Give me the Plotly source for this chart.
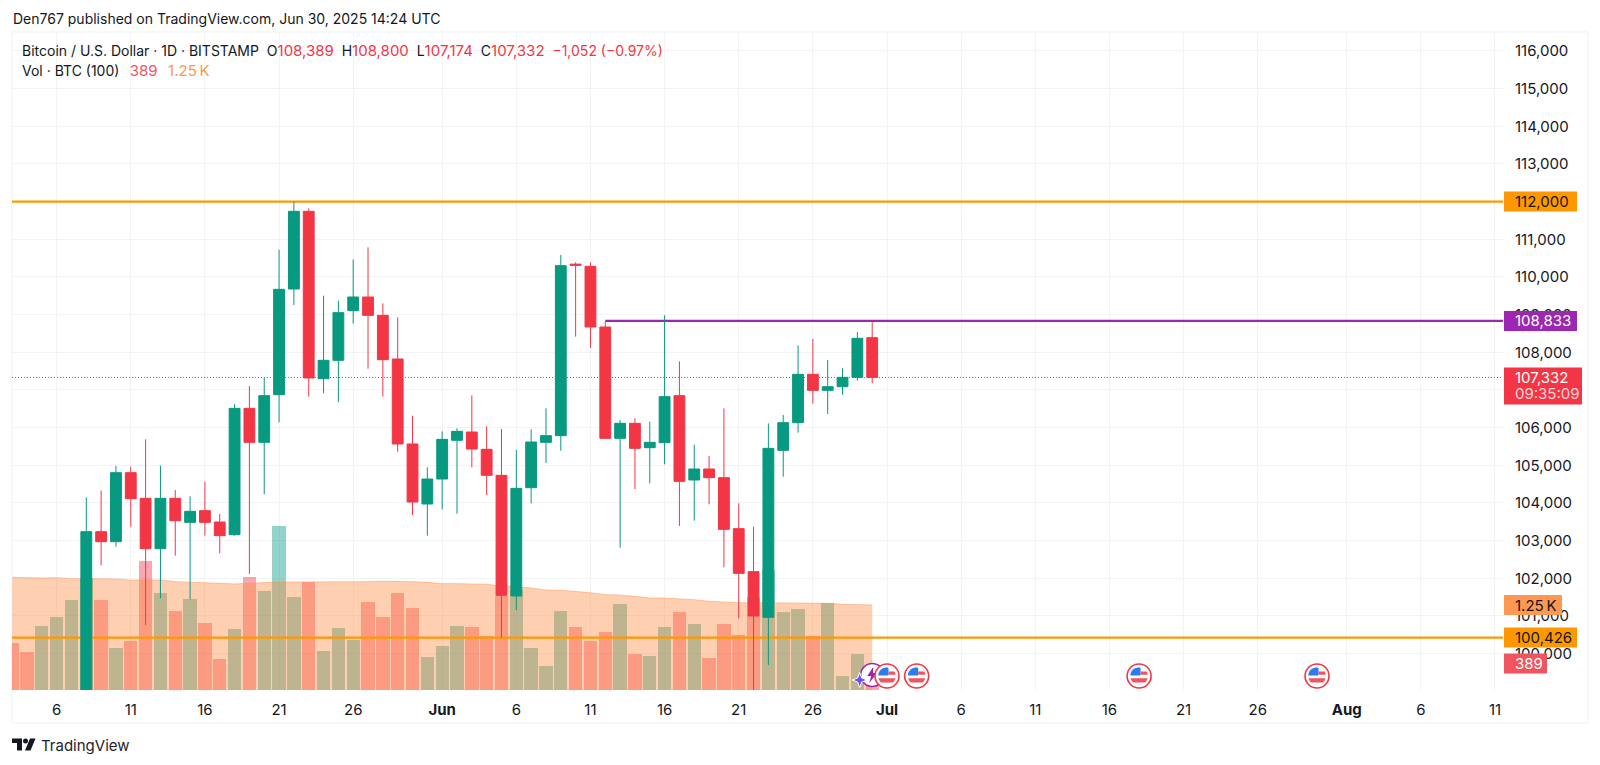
import math
import numpy as np
import pandas as pd
import plotly.graph_objects as go

# ---------- chart values ----------
candle_dates = pd.date_range("2025-05-08", "2025-06-30", freq="D")
opens = [97000, 103238, 102973, 104804, 104123, 102787, 104123, 103486, 103796, 103495,
         103159, 106512, 105610, 106875, 109680, 111742, 107300, 107787, 109105, 109468,
         108981, 107822, 105566, 103973, 104636, 105663, 105884, 105424, 104734, 101531,
         104406, 105610, 105787, 110340, 110282, 108671, 105716, 106114, 105468, 105601,
         106849, 104610, 104902, 104672, 103318, 102177, 100964, 105397, 106132, 107415,
         106990, 107087, 107335, 108389]
highs = [104150, 104330, 104981, 104964, 105689, 104990, 104344, 104176, 104566, 103707,
         106627, 107105, 107335, 110725, 112000, 111822, 109503, 109371, 110468, 110786,
         109300, 108928, 106318, 104946, 105902, 105981, 106857, 106034, 105964, 105406,
         105955, 106512, 110583, 110388, 110388, 108831, 106203, 106247, 106158, 108981,
         107760, 105548, 105247, 106512, 103991, 103371, 106114, 106335, 108185, 108353,
         107795, 107574, 108539, 108800]
lows = [96500, 102345, 102840, 103371, 100760, 101469, 102600, 101442, 103132, 102663,
        103132, 102115, 104230, 106141, 109256, 106822, 106911, 106672, 108760, 107565,
        106822, 105362, 103681, 103132, 103831, 103716, 104946, 104211, 100416, 101159,
        103990, 105061, 105388, 108415, 108114, 105716, 102814, 104371, 104521, 105025,
        103389, 103530, 103964, 102292, 100938, 98200, 99699, 104698, 105866, 106636,
        106362, 106875, 107247, 107174]
closes = [103238, 102973, 104804, 104114, 102787, 104123, 103530, 103778, 103486, 103132,
          106512, 105610, 106849, 109672, 111742, 107318, 107787, 109052, 109468, 108981,
          107804, 105566, 104026, 104636, 105689, 105902, 105433, 104734, 101548, 104388,
          105618, 105787, 110300, 110310, 108671, 105716, 106114, 105450, 105610, 106822,
          104574, 104902, 104672, 103300, 102132, 101000, 105450, 106132, 107415, 106990,
          107087, 107335, 108370, 107332]

vol_dates = pd.date_range("2025-05-03", "2025-06-30", freq="D")
volumes = [696, 564, 941, 1069, 1324, 1640, 1324, 623, 721, 1897, 1422, 1162, 1333, 985,
           456, 897, 1662, 1456, 2412, 1373, 1583, 578, 912, 735, 1294, 1074, 1426, 1206,
           485, 647, 941, 922, 794, 1382, 1470, 613, 353, 1162, 922, 721, 858, 1265, 525,
           495, 926, 1152, 971, 471, 971, 809, 1372, 1765, 1152, 1196, 794, 1284, 206, 529,
           389]
vol_up = [0, 0, 1, 1, 1, 1, 0, 1, 0, 0, 1, 0, 1, 0, 0, 1, 0, 1, 1, 1, 0, 1, 1, 1, 0, 0, 0, 0,
          1, 1, 1, 0, 0, 0, 1, 1, 1, 1, 0, 0, 0, 1, 0, 1, 1, 0, 1, 0, 0, 0, 0, 1, 1, 1, 0, 1,
          1, 1, 0]
vol_ma = [1657, 1647, 1647, 1652, 1637, 1637, 1637, 1632, 1618, 1623, 1618, 1593, 1588, 1578,
          1569, 1559, 1569, 1583, 1588, 1588, 1588, 1583, 1583, 1588, 1593, 1598, 1598, 1593,
          1583, 1564, 1564, 1564, 1554, 1529, 1520, 1500, 1471, 1466, 1451, 1431, 1402, 1397,
          1377, 1353, 1353, 1343, 1328, 1304, 1289, 1284, 1284, 1284, 1284, 1284, 1279, 1275,
          1260, 1250, 1250]

tick_dates = ["2025-05-06", "2025-05-11", "2025-05-16", "2025-05-21", "2025-05-26", "2025-06-01",
              "2025-06-06", "2025-06-11", "2025-06-16", "2025-06-21", "2025-06-26", "2025-07-01",
              "2025-07-06", "2025-07-11", "2025-07-16", "2025-07-21", "2025-07-26", "2025-08-01",
              "2025-08-06", "2025-08-11"]
tick_labels = ["6", "11", "16", "21", "26", "<b>Jun</b>", "6", "11", "16", "21", "26", "<b>Jul</b>",
               "6", "11", "16", "21", "26", "<b>Aug</b>", "6", "11"]
flag_dates = ["2025-07-01", "2025-07-03", "2025-07-18", "2025-07-30"]

resistance = 112000
support = 100426
pivot = 108833
pivot_start = "2025-06-12"
last_price = 107332
last_vol = 389
last_ma = 1250
x_start = "2025-05-02 23:45"
x_end = "2025-08-11 13:00"

# ---------- colours ----------
GREEN = "#089981"
RED = "#F23645"
ORANGE = "#FF9800"
PURPLE = "#9C27B0"
TEXT = "#131722"
GRID = "#F2F3F5"
FONT = "Inter"

# plot area in page pixels
L, R, T, B = 12, 1503, 32, 690


def px(x):
    return (x - L) / (R - L)


def py(y):
    return (B - y) / (B - T)


def round_band(r, y0, y1, x0=-99, x1=99):
    # part of a circle between two heights, as a pixel path
    ys = np.linspace(y0, y1, 9)
    left = [(max(x0, -math.sqrt(max(r * r - y * y, 0))), y) for y in ys]
    right = [(min(x1, math.sqrt(max(r * r - y * y, 0))), y) for y in ys[::-1]]
    pts = left + right
    return "M" + " L".join(f"{a:.2f},{b:.2f}" for a, b in pts) + " Z"


def poly(points):
    return "M" + " L".join(f"{a:.5f},{b:.5f}" for a, b in points) + " Z"


fig = go.Figure()

# volume and its average on the bottom layer
fig.add_trace(go.Bar(
    x=vol_dates, y=volumes, width=86400000 * 0.9, yaxis="y",
    marker=dict(color=[GREEN if u else RED for u in vol_up], opacity=0.43, line_width=0),
))
fig.add_trace(go.Scatter(
    x=vol_dates, y=vol_ma, mode="lines", yaxis="y", fill="tozeroy",
    line=dict(color="rgba(255,140,70,0.45)", width=1),
    fillcolor="rgba(255,135,60,0.4)",
))

# horizontal levels, under the candles
fig.add_trace(go.Scatter(x=[x_start, x_end], y=[last_price, last_price], mode="lines", yaxis="y2",
                         line=dict(color=RED, width=1, dash="1px,2px")))
fig.add_trace(go.Scatter(x=[x_start, x_end], y=[resistance, resistance], mode="lines", yaxis="y2",
                         line=dict(color=ORANGE, width=2.3)))
fig.add_trace(go.Scatter(x=[x_start, x_end], y=[support, support], mode="lines", yaxis="y2",
                         line=dict(color=ORANGE, width=2.3)))
fig.add_trace(go.Scatter(x=[pivot_start, x_end], y=[pivot, pivot], mode="lines", yaxis="y2",
                         line=dict(color=PURPLE, width=2.3)))

fig.add_trace(go.Candlestick(
    x=candle_dates, open=opens, high=highs, low=lows, close=closes, yaxis="y3",
    increasing=dict(line=dict(color=GREEN, width=1), fillcolor=GREEN),
    decreasing=dict(line=dict(color=RED, width=1), fillcolor=RED),
    whiskerwidth=0,
))

price_range = [99035, 116503]
fig.update_layout(
    width=1600, height=765,
    margin=dict(l=L, r=1600 - R, t=T, b=765 - B),
    paper_bgcolor="white", plot_bgcolor="white",
    showlegend=False, boxgap=0.27, boxgroupgap=0, bargap=0,
    font=dict(family=FONT, size=14, color=TEXT),
    xaxis=dict(
        type="date", range=[x_start, x_end], rangeslider_visible=False,
        tickmode="array", tickvals=tick_dates, ticktext=tick_labels,
        showgrid=True, gridcolor=GRID, gridwidth=1, zeroline=False, showline=False,
        ticks="", ticklabelstandoff=9, tickangle=0,
        tickfont=dict(family=FONT, size=15, color=TEXT),
    ),
    yaxis=dict(range=[0, 9676], visible=False, showgrid=False, zeroline=False),
    yaxis2=dict(range=price_range, overlaying="y", visible=False, showgrid=False, zeroline=False),
    yaxis3=dict(
        range=price_range, overlaying="y", side="right",
        tick0=0, dtick=1000, tickformat=",d",
        showgrid=True, gridcolor=GRID, gridwidth=1, zeroline=False, showline=False,
        ticks="", ticklabelstandoff=11,
        tickfont=dict(family=FONT, size=15, color=TEXT),
    ),
)

# outer frame and its right/bottom parts
fig.add_shape(type="rect", xref="paper", yref="paper", x0=px(12), x1=px(1588), y0=py(723), y1=py(32),
              line=dict(color="#EFF1F5", width=1), layer="below")


def pill(level, yref, color, text, width, text_color="white", up=10, down=-10):
    fig.add_shape(type="rect", xref="paper", xsizemode="pixel", xanchor=1.0, x0=1, x1=1 + width,
                  yref=yref, ysizemode="pixel", yanchor=level, y0=down, y1=up,
                  fillcolor=color, line_width=0, layer="above")
    fig.add_annotation(xref="paper", yref=yref, x=px(1513), y=level, text=text, showarrow=False,
                       xanchor="left", yanchor="middle",
                       font=dict(family=FONT, size=15, color=text_color))


pill(resistance, "y3", ORANGE, f"{resistance:,}", 73, TEXT)
pill(pivot, "y3", PURPLE, f"{pivot:,}", 73)
pill(last_price, "y3", RED, f"{last_price:,}", 78, up=10, down=-27)
fig.add_annotation(xref="paper", yref="paper", x=px(1513), y=py(393.5), text="09:35:09", showarrow=False,
                   xanchor="left", yanchor="middle", font=dict(family=FONT, size=15, color="#FBD5D8"))
pill(last_ma, "y", "#FF9850", "1.25\u2009K", 58, TEXT)
pill(support, "y3", ORANGE, f"{support:,}", 73, TEXT)
pill(last_vol, "y", "#F0545E", str(last_vol), 43)

# header texts
fig.add_annotation(xref="paper", yref="paper", x=px(10.5), y=py(18.5), xanchor="left", yanchor="middle",
                   showarrow=False, text="Den767 published on TradingView.com, Jun 30, 2025 14:24 UTC",
                   font=dict(family=FONT, size=14, color=TEXT))


def num(s, color=RED, size=15):
    return f'<span style="color:{color};font-size:{size}px">{s}</span>'


sp = "\u00a0\u00a0"
legend_1 = ("Bitcoin / U.S. Dollar · 1D · BITSTAMP" + sp
            + "O" + num("108,389") + sp + "H" + num("108,800") + sp + "L" + num("107,174") + sp
            + "C" + num("107,332") + sp + num("\u22121,052 (\u22120.97%)", size=14))
legend_2 = ("Vol · BTC (100)" + sp + "\u2009" + num("389", "#F0545E") + sp + "\u2009" + num("1.25\u2009K", "#FF9850"))
fig.add_annotation(xref="paper", yref="paper", x=px(19.5), y=py(50.5), xanchor="left", yanchor="middle",
                   showarrow=False, text=legend_1, font=dict(family=FONT, size=14, color=TEXT))
fig.add_annotation(xref="paper", yref="paper", x=px(19.5), y=py(70.5), xanchor="left", yanchor="middle",
                   showarrow=False, text=legend_2, font=dict(family=FONT, size=14, color=TEXT))

# TradingView mark and name
fig.add_annotation(xref="paper", yref="paper", x=px(38.5), y=py(745), xanchor="left", yanchor="middle",
                   showarrow=False, text="TradingView", font=dict(family=FONT, size=15, color="#1E222D"))
for path in [
    poly([(px(12), py(738.5)), (px(22), py(738.5)), (px(22), py(750.5)), (px(17), py(750.5)),
          (px(17), py(743)), (px(12), py(743))]),
    poly([(px(30), py(738.5)), (px(35.5), py(738.5)), (px(30.5), py(750.5)), (px(25), py(750.5))]),
]:
    fig.add_shape(type="path", xref="paper", yref="paper", path=path, fillcolor="#131722", line_width=0)
fig.add_shape(type="circle", xref="paper", yref="paper", x0=px(23), x1=px(28), y0=py(743.5), y1=py(738.5),
              fillcolor="#131722", line_width=0)


# calendar and news icons on the time axis
def icon(date, path=None, kind="path", size=0, x_off=0, y_off=0, fill="white", line=None, line_w=0, y_pos=676):
    args = dict(xref="x", xsizemode="pixel", xanchor=date, yref="paper", ysizemode="pixel", yanchor=py(y_pos),
                fillcolor=fill, line=dict(color=line, width=line_w) if line else dict(width=0), layer="above")
    if kind == "circle":
        fig.add_shape(type="circle", x0=x_off - size, x1=x_off + size, y0=y_off - size, y1=y_off + size, **args)
    else:
        fig.add_shape(type="path", path=path, **args)


# sparkle and bolt marker sit beside the last candle
news_date = "2025-06-30"
icon(news_date, kind="circle", size=11.5, line=PURPLE, line_w=1.5, y_pos=675)
icon(news_date, path=poly([(1, 8), (-5, -1), (-1, -1), (-3, -8), (5, 2), (1, 2)]), fill=PURPLE, y_pos=675)
icon(news_date, path=poly([(-12.5, 7.5), (-10.5, 2), (-5, 0), (-10.5, -2), (-12.5, -7.5), (-14.5, -2),
                           (-20, 0), (-14.5, 2)]), fill="#6A4DF5", line="white", line_w=1, y_pos=680)

for d in flag_dates:
    icon(d, kind="circle", size=12, line=RED, line_w=1.6)
    icon(d, path=round_band(8.8, -8.8, 8.8), fill="white")
    icon(d, path=round_band(8.8, 0.6, 8.8, x1=1.5), fill="#2E7BF0")
    icon(d, path=round_band(8.8, 1.2, 4.6, x0=1.5), fill="#EF5560")
    icon(d, path=round_band(8.8, -6.5, -2.2), fill="#EF5560")

fig.write_html("out.html", config={"displayModeBar": False},
               post_script="document.body.style.margin='0';document.body.style.overflow='hidden';")
